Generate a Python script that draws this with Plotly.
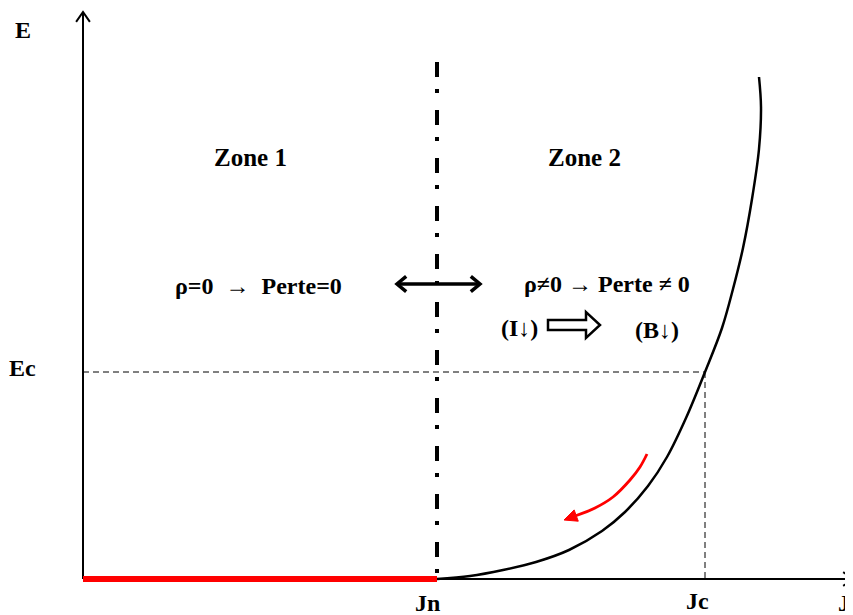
import numpy as np
import plotly.graph_objects as go

# ── Data (arbitrary units, origin at the axes crossing) ───────────────────────
JN = 354          # current density where resistance appears
JC = 622          # critical current density
EC = 207          # critical electric field

# E(J) characteristic
J_CURVE = [354, 387, 420, 453, 486, 519, 542, 565, 584, 603, 622, 639, 650, 660, 669, 676, 678, 676]
E_CURVE = [0, 3, 9, 17, 29, 48, 67, 93, 122, 161, 207, 251, 290, 331, 380, 430, 472, 502]

# red curved arrow (path along the curve, pointing down)
J_RED_ARROW = [564, 557, 547, 530, 512, 492, 484]
E_RED_ARROW = [125, 112, 99, 82, 71, 63, 60]

E_DASHDOT_TOP = 517
J_AXIS_END = 770
E_AXIS_END = 567

FONT = 'Liberation Serif'
TXT = 24

# page body adds an 8px offset; shift the view window to compensate
OFF = 8

fig = go.Figure()


def chevron(tip, direction, arm=11, angle=38):
    # open "V" arrow head: returns x, y lists
    d = np.array(direction, float)
    d = d / np.linalg.norm(d)
    xs, ys = [], []
    for sgn in (1, -1):
        a = np.radians(180 + sgn * angle)
        rot = np.array([[np.cos(a), -np.sin(a)], [np.sin(a), np.cos(a)]])
        p = np.array(tip) + arm * rot @ d
        xs.append(p[0]); ys.append(p[1])
    return [xs[0], tip[0], xs[1]], [ys[0], tip[1], ys[1]]


def add_line(x, y, color='black', width=2, dash='solid', shape='linear'):
    fig.add_trace(go.Scatter(x=x, y=y, mode='lines',
                             line=dict(color=color, width=width, dash=dash, shape=shape),
                             hoverinfo='skip', showlegend=False))


# axes with open arrow heads
add_line([0, J_AXIS_END], [0, 0], width=2)
add_line([0, 0], [0, E_AXIS_END], width=2)
cx, cy = chevron((J_AXIS_END, 0), (1, 0), arm=12, angle=35)
add_line(cx, cy, width=2)
cx, cy = chevron((0, E_AXIS_END), (0, 1), arm=12, angle=35)
add_line(cx, cy, width=2)

# Ec / Jc dashed guides
add_line([0, JC], [EC, EC], width=1, dash='6px,4px')
add_line([JC, JC], [EC, 0], width=1, dash='6px,4px')

# Jn dash-dot boundary
add_line([JN, JN], [E_DASHDOT_TOP, 0], width=4, dash='15px,12px,4px,17px')

# characteristic curve
add_line(J_CURVE, E_CURVE, width=2.5, shape='spline')

# superconducting branch (zone 1)
add_line([0, JN], [0, 0], color='#ff0000', width=6)

# red curved arrow
add_line(J_RED_ARROW[:-1], E_RED_ARROW[:-1], color='#ff0000', width=2.8, shape='spline')
tip = np.array([481, 59], float)
d = tip - np.array([J_RED_ARROW[-2], E_RED_ARROW[-2]], float)
d /= np.linalg.norm(d)
n = np.array([-d[1], d[0]])
base = tip - 13 * d
hx = [tip[0], base[0] + 6 * n[0], base[0] - 6 * n[0], tip[0]]
hy = [tip[1], base[1] + 6 * n[1], base[1] - 6 * n[1], tip[1]]
fig.add_trace(go.Scatter(x=hx, y=hy, mode='lines', fill='toself', fillcolor='#ff0000',
                         line=dict(color='#ff0000', width=1), hoverinfo='skip', showlegend=False))

# double headed arrow across the boundary
E_DBL = 295
add_line([314, 397], [E_DBL, E_DBL], width=3.5)
cx, cy = chevron((397, E_DBL), (1, 0), arm=12, angle=40)
add_line(cx, cy, width=3.5)
cx, cy = chevron((314, E_DBL), (-1, 0), arm=12, angle=40)
add_line(cx, cy, width=3.5)

# hollow block arrow  (I↓) => (B↓)
bx0, bx1, btip, bey, bh, hh = 465, 503, 517, 254, 5, 13
path = (f'M {bx0},{bey - bh} L {bx1},{bey - bh} L {bx1},{bey - hh} L {btip},{bey} '
        f'L {bx1},{bey + hh} L {bx1},{bey + bh} L {bx0},{bey + bh} Z')
fig.add_shape(type='path', path=path, xref='x', yref='y',
              line=dict(color='black', width=2.5), fillcolor='white')

# ── Text ──────────────────────────────────────────────────────────────────────
labels = [
    ('E', -60, 549, 'center', TXT),
    ('Ec', -61, 211, 'center', TXT),
    ('Zone 1', 167, 422, 'center', TXT + 1),
    ('Zone 2', 501, 422, 'center', TXT + 1),
    ('ρ=0  →  Perte=0', 175, 293, 'center', TXT),
    ('ρ≠0 → Perte ≠ 0', 524, 295, 'center', TXT),
    ('(I↓)', 436, 251, 'center', TXT),
    ('(B↓)', 574, 249, 'center', TXT),
    ('Jn', 344, -24, 'center', TXT),
    ('Jc', 614, -22, 'center', TXT),
    ('J', 769, -24, 'right', TXT),
]
for text, x, y, xa, size in labels:
    fig.add_annotation(x=x, y=y, text=f'<b>{text}</b>', showarrow=False,
                       xanchor=xa, yanchor='middle',
                       font=dict(family=FONT, size=size, color='black'))

fig.update_layout(
    width=853, height=615,
    margin=dict(l=0, r=0, t=0, b=0),
    plot_bgcolor='white', paper_bgcolor='white',
    xaxis=dict(range=[-83 + OFF, 770 + OFF], visible=False, fixedrange=True),
    yaxis=dict(range=[-36 - OFF, 579 - OFF], visible=False, fixedrange=True),
    showlegend=False,
)

fig.write_html('out.html')
